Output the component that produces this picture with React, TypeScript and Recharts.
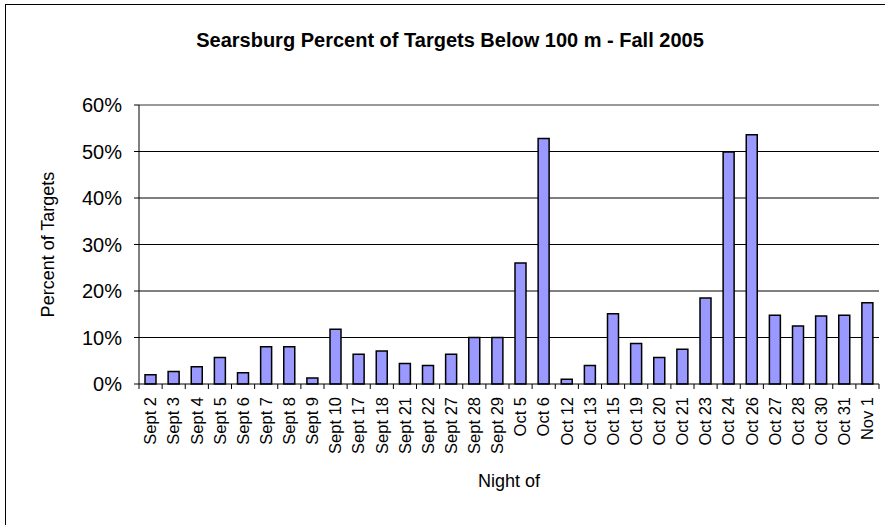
import { Bar, BarChart, CartesianGrid, Label, ReferenceLine, XAxis, YAxis } from 'recharts'

const nights = [
	'Sept 2', 'Sept 3', 'Sept 4', 'Sept 5', 'Sept 6', 'Sept 7', 'Sept 8', 'Sept 9', 'Sept 10',
	'Sept 17', 'Sept 18', 'Sept 21', 'Sept 22', 'Sept 27', 'Sept 28', 'Sept 29',
	'Oct 5', 'Oct 6', 'Oct 12', 'Oct 13', 'Oct 15', 'Oct 19', 'Oct 20', 'Oct 21', 'Oct 23',
	'Oct 24', 'Oct 26', 'Oct 27', 'Oct 28', 'Oct 30', 'Oct 31', 'Nov 1',
]

// percent of targets below 100 m
const percentBelow100 = [
	2.0, 2.7, 3.7, 5.7, 2.4, 8.0, 8.0, 1.3, 11.8,
	6.4, 7.1, 4.4, 4.0, 6.4, 10.0, 10.0,
	26.0, 52.8, 1.0, 4.0, 15.1, 8.7, 5.7, 7.5, 18.5,
	49.9, 53.6, 14.8, 12.5, 14.6, 14.8, 17.5,
]

const yTicks = [0, 10, 20, 30, 40, 50, 60]
const gridValues = [10, 20, 30, 40, 50]

const data = nights.map((night, i) => ({ night, pct: percentBelow100[i] }))

const FONT = '"Liberation Sans", Arial, sans-serif'
const W = 885
const H = 525
const margin = { top: 105, right: 6, bottom: 0, left: 0 }
const yAxisWidth = 139
const xAxisHeight = 141
const band = (W - margin.left - margin.right - yAxisWidth) / nights.length

const NightTick = (props: any) => {
	const { x, y, payload, index } = props
	const axisY = y - 5
	return (
		<g>
			<line x1={x - band / 2} x2={x - band / 2} y1={axisY} y2={axisY + 5} stroke="#000" />
			{index === nights.length - 1 && (
				<line x1={x + band / 2} x2={x + band / 2} y1={axisY} y2={axisY + 5} stroke="#000" />
			)}
			<text
				x={x}
				y={y + 8}
				transform={`rotate(-90 ${x} ${y + 8})`}
				textAnchor="end"
				dy="0.35em"
				fontSize={16.5}
				fontFamily={FONT}
				fill="#000"
			>
				{payload.value}
			</text>
		</g>
	)
}

export default function App() {
	return (
		<div style={{ position: 'absolute', left: 0, top: 0, width: W, height: H, overflow: 'hidden', background: '#fff' }}>
			<div
				style={{
					position: 'absolute',
					left: 5,
					top: 4,
					width: 900,
					height: 600,
					border: '1px solid #000',
				}}
			/>
			<div
				style={{
					position: 'absolute',
					left: 0,
					top: 29,
					width: 900,
					textAlign: 'center',
					fontFamily: FONT,
					fontWeight: 'bold',
					fontSize: 20,
				}}
			>
				Searsburg Percent of Targets Below 100 m - Fall 2005
			</div>
			<div style={{ position: 'absolute', left: 0, top: 0 }}>
				<BarChart width={W} height={H} data={data} margin={margin}>
					<CartesianGrid vertical={false} stroke="#000" horizontalValues={gridValues} />
					<ReferenceLine y={60} stroke="#999" strokeWidth={2} />
					<XAxis
						dataKey="night"
						interval={0}
						height={xAxisHeight}
						axisLine={{ stroke: '#000' }}
						tickLine={false}
						tickSize={5}
						tickMargin={0}
						tick={<NightTick />}
					>
						<Label
							content={(p: any) => (
								<text
									x={p.viewBox.x + p.viewBox.width / 2}
									y={487}
									textAnchor="middle"
									fontSize={18}
									fontFamily={FONT}
									fill="#000"
								>
									Night of
								</text>
							)}
						/>
					</XAxis>
					<YAxis
						domain={[0, 60]}
						ticks={yTicks}
						width={yAxisWidth}
						tickFormatter={(v: number) => `${v}%`}
						axisLine={{ stroke: '#000' }}
						tickLine={{ stroke: '#000' }}
						tickSize={5}
						tickMargin={12}
						tick={{ fill: '#000', fontSize: 20, fontFamily: FONT }}
					>
						<Label
							content={(p: any) => {
								const cx = 48
								const cy = p.viewBox.y + p.viewBox.height / 2
								return (
									<text
										x={cx}
										y={cy}
										transform={`rotate(-90 ${cx} ${cy})`}
										textAnchor="middle"
										dy="0.35em"
										fontSize={18}
										fontFamily={FONT}
										fill="#000"
									>
										Percent of Targets
									</text>
								)
							}}
						/>
					</YAxis>
					<YAxis
						yAxisId="frame"
						orientation="right"
						width={0}
						tick={false}
						tickLine={false}
						axisLine={{ stroke: '#999', strokeWidth: 2 }}
					/>
					<Bar dataKey="pct" fill="#9999FF" stroke="#000" strokeWidth={1.5} barSize={11} isAnimationActive={false} />
				</BarChart>
			</div>
		</div>
	)
}
